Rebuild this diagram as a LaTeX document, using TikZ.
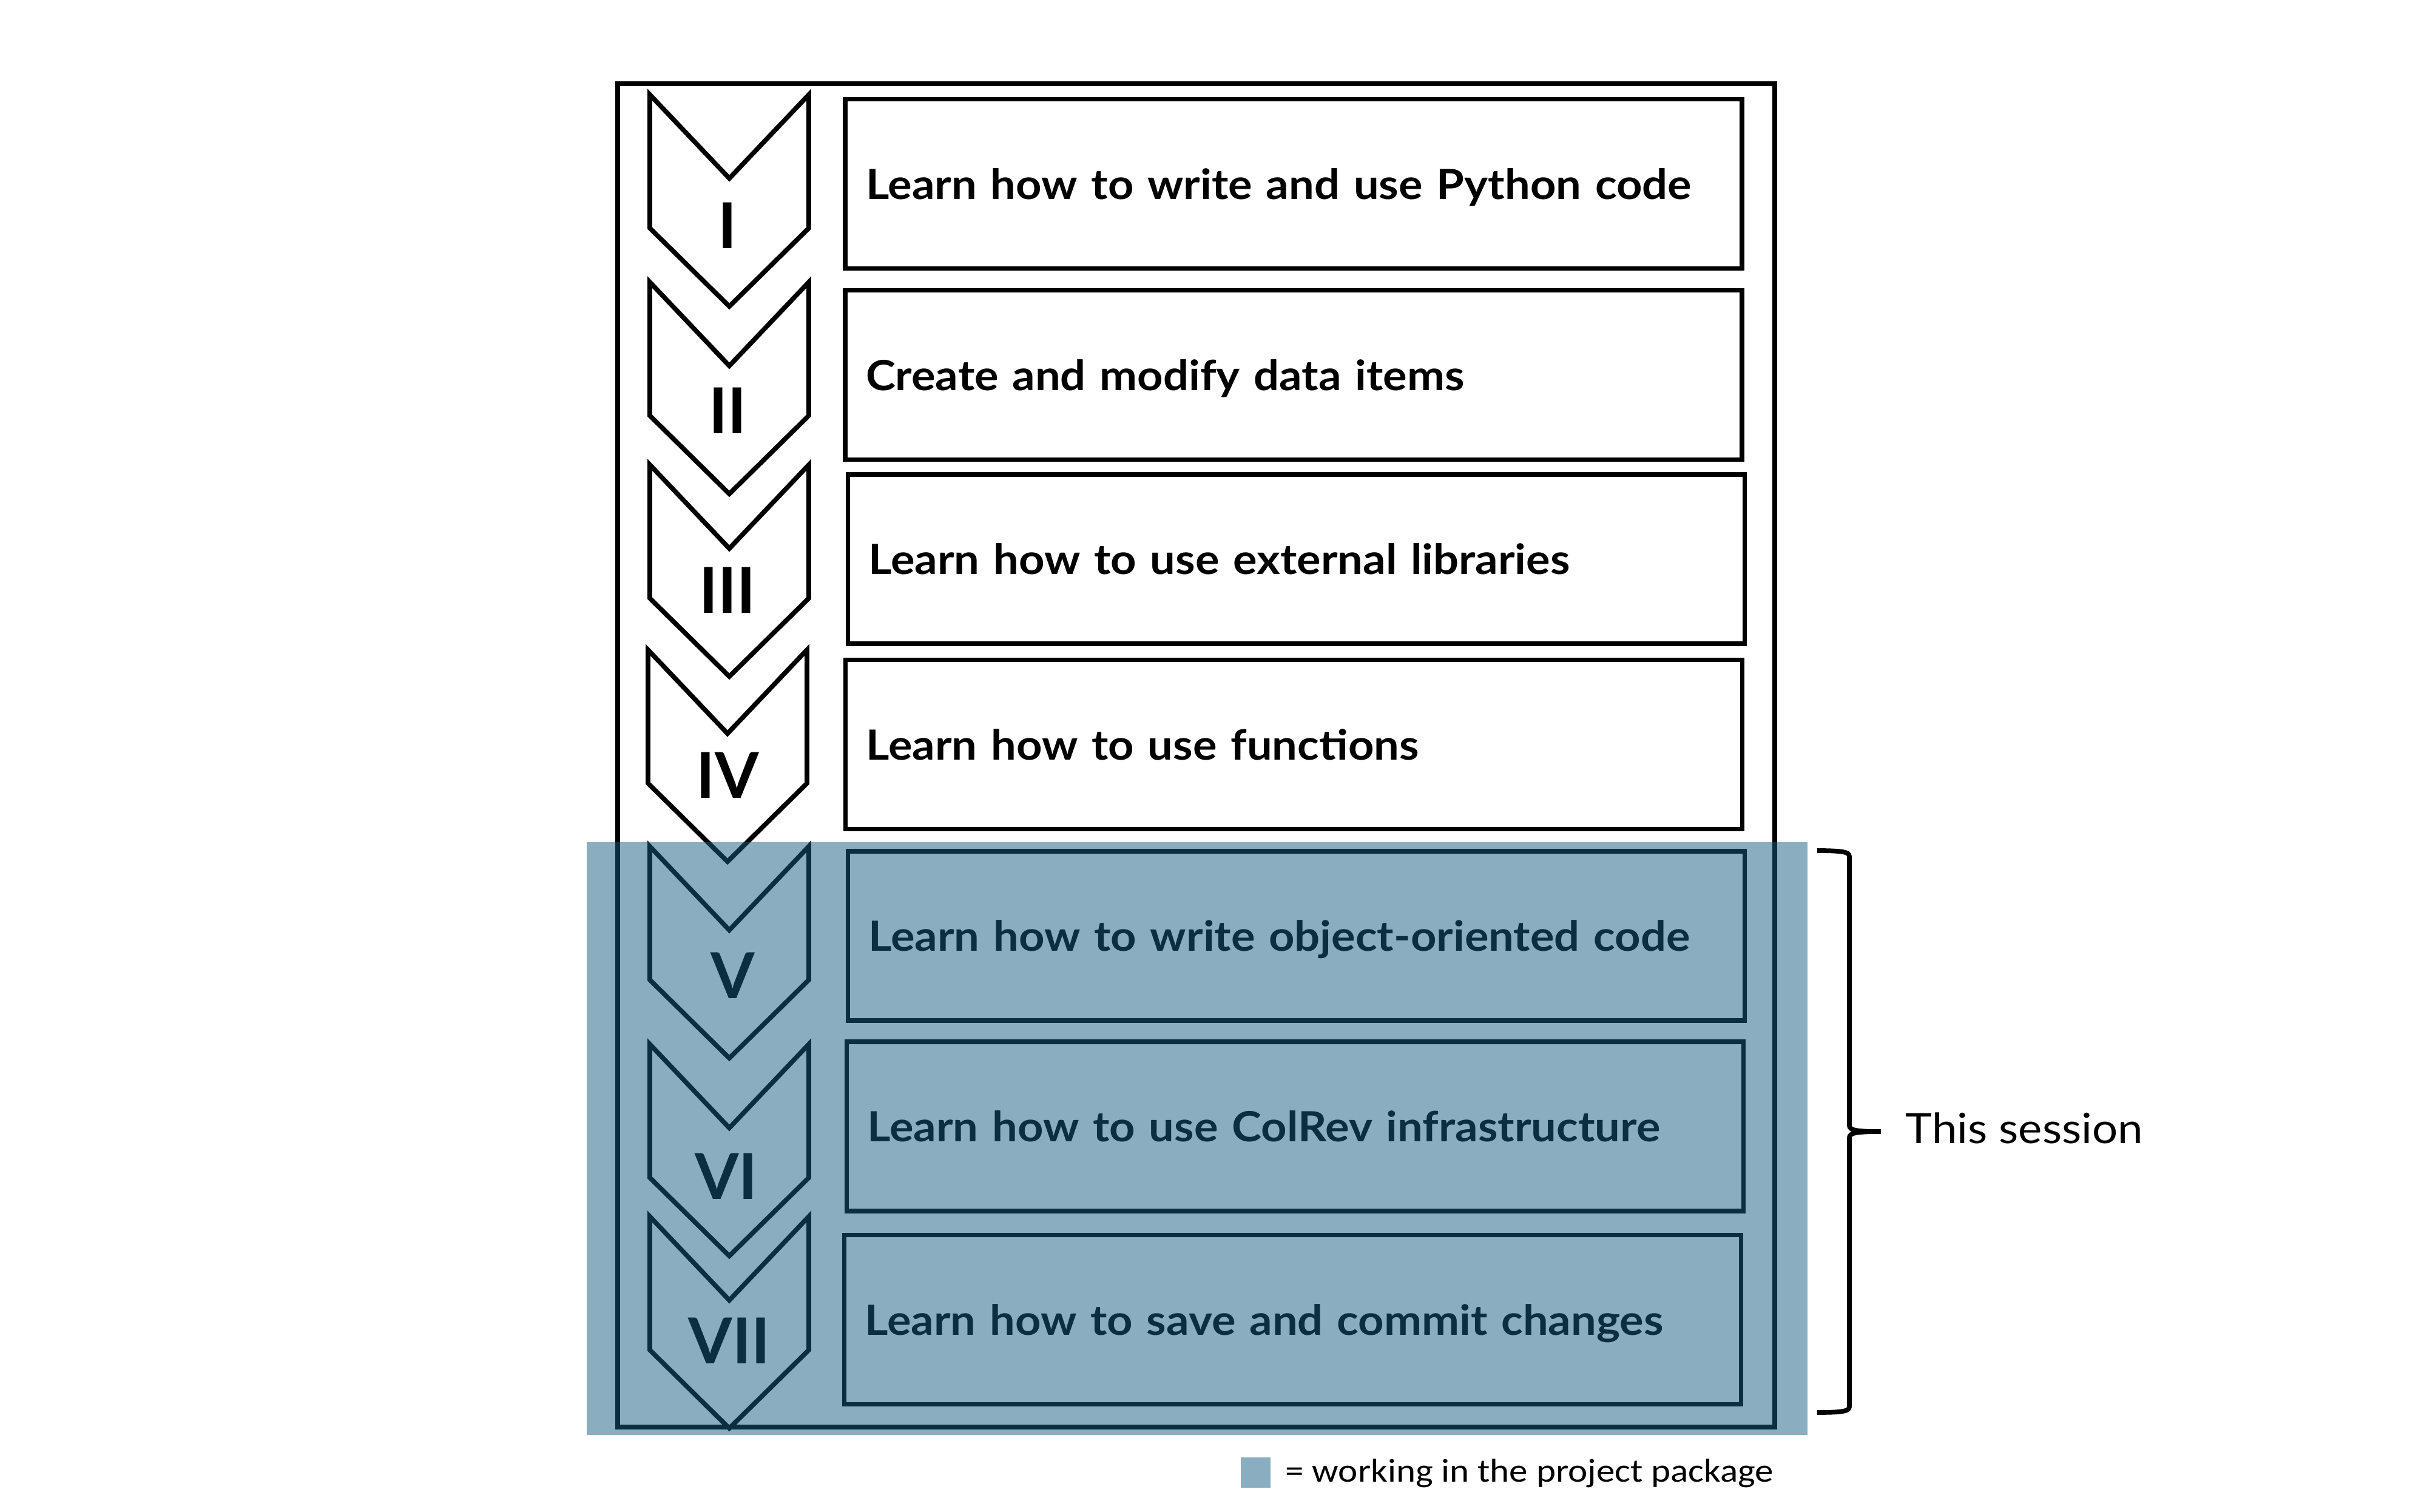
\documentclass[tikz,border=0pt]{standalone}
\usepackage{fontspec}
\setmainfont{Lato}
\newfontfamily\stepfont{Lato}[FakeStretch=1.08]
\newfontfamily\legendfont{Carlito}[FakeStretch=1.12]
\definecolor{sessionblue}{RGB}{22,94,128}
\tikzset{
  stepbox/.style={draw, line width=2.2pt, minimum width=14.78cm, minimum height=2.79cm,
    text width=14.1cm, text depth=0pt, align=left, font=\stepfont\fontsize{19.5}{23}\selectfont\bfseries},
  numeral/.style={anchor=base, font=\fontsize{29.7}{34}\selectfont\bfseries},
  chevron/.pic={\draw[line width=2.2pt] (-1.31,0) -- (0,1.38) -- (1.31,0) -- (1.31,2.20) -- (0,3.49) -- (-1.31,2.20) -- cycle;},
  session/.style={fill=sessionblue, fill opacity=0.5}
}
\begin{document}
\begin{tikzpicture}[x=1cm, y=-1cm]
  \useasboundingbox (0,0) rectangle (40,24.92);
  \draw [line width=2.2pt] (10.18,1.38) rectangle (29.25,23.52);
  % steps
  \node [stepbox] (s1) at (21.32,3.03) {Learn how to write and use Python code};
  \node [stepbox] (s2) at (21.32,6.18) {Create and modify data items};
  \node [stepbox] (s3) at (21.365,9.215) {Learn how to use external libraries};
  \node [stepbox] (s4) at (21.325,12.27) {Learn how to use functions};
  \node [stepbox] (s5) at (21.365,15.425) {Learn how to write object-oriented code};
  \node [stepbox] (s6) at (21.345,18.565) {Learn how to use ColRev infrastructure};
  \node [stepbox] (s7) at (21.305,21.75) {Learn how to save and commit changes};
  % chevrons
  \pic at (12.02,1.56) {chevron};
  \pic at (12.02,4.65) {chevron};
  \pic at (12.02,7.66) {chevron};
  \pic at (11.99,10.71) {chevron};
  \pic at (12.02,13.95) {chevron};
  \pic at (12.02,17.21) {chevron};
  \pic at (12.02,20.05) {chevron};
  \node [numeral] (n1) at (11.99,4.10) {I};
  \node [numeral] (n2) at (11.99,7.15) {II};
  \node [numeral] (n3) at (11.99,10.10) {III};
  \node [numeral] (n4) at (11.99,13.15) {IV};
  \node [numeral] (n5) at (12.08,16.45) {V};
  \node [numeral] (n6) at (11.97,19.76) {VI};
  \node [numeral] (n7) at (12.02,22.47) {VII};
  % this session
  \fill [session] (9.67,13.88) rectangle (29.79,23.65);
  \draw [line width=2.2pt] (29.95,14.02) .. controls (30.48,14.02) and (30.48,14.06) .. (30.48,14.14)
    -- (30.48,18.55) .. controls (30.48,18.63) and (30.60,18.65) .. (31.00,18.65)
    .. controls (30.60,18.65) and (30.48,18.67) .. (30.48,18.75)
    -- (30.48,23.16) .. controls (30.48,23.24) and (30.48,23.28) .. (29.95,23.28);
  \node [anchor=base west, inner sep=0pt, font=\stepfont\fontsize{19.6}{23}\selectfont] (ts) at (31.40,18.84) {This session};
  % legend
  \fill [session] (20.45,24.02) rectangle (20.94,24.52);
  \node [anchor=base west, inner sep=0pt, font=\legendfont\fontsize{15.5}{18}\selectfont] (lg) at (21.18,24.42) {= working in the project package};
\end{tikzpicture}
\end{document}
